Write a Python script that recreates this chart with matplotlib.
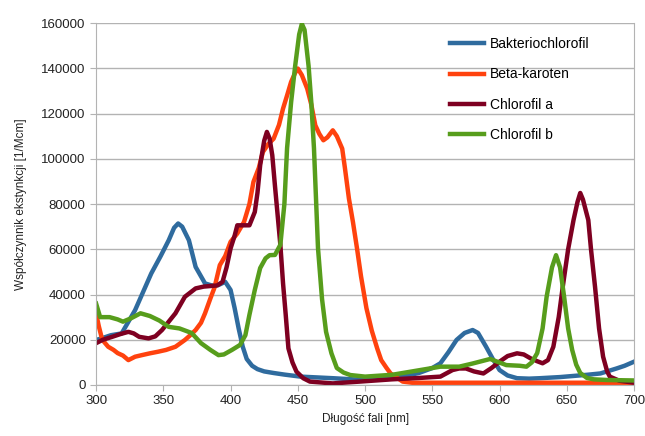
import matplotlib.pyplot as plt

plt.rcParams['font.family'] = ['Liberation Sans', 'DejaVu Sans']

# Bakteriochlorofil
bchl_x = [300, 305, 311, 319, 329, 341, 348, 354, 358, 361, 364, 369, 374, 381, 386, 391, 396,
          400, 403, 406, 409, 412, 416, 420, 425, 432, 440, 452, 476, 500, 520, 540, 550, 556,
          562, 568, 574, 580, 584, 590, 595, 600, 606, 613, 622, 630, 645, 655, 665, 675, 687,
          693, 700]
bchl_y = [19900, 20800, 22000, 22800, 33100, 49300, 57000, 64000, 69500, 71400, 70000, 64000,
          52200, 44900, 44000, 44200, 45600, 42000, 34000, 25000, 17000, 11500, 8500, 7000,
          6000, 5300, 4600, 3700, 3000, 2200, 2800, 5300, 7500, 9600, 14500, 19900, 23000,
          24300, 23000, 16900, 11500, 6600, 4200, 3000, 2800, 3000, 3500, 4000, 4500, 5100,
          7300, 8500, 10300]

# Beta-karoten
beta_x = [300, 302, 304, 306, 309, 313, 316, 320, 324, 329, 334, 340, 346, 352, 359, 366, 370,
          374, 378, 381, 385, 388, 392, 396, 400, 405, 410, 414, 417, 421, 424, 428, 432, 436,
          439, 442, 445, 448, 450, 453, 457, 460, 463, 466, 469, 472, 476, 479, 483, 485, 488,
          491, 494, 497, 501, 505, 509, 512, 516, 519, 523, 528, 535, 560, 600, 650, 700]
beta_y = [31700, 26000, 21300, 19000, 16900, 15500, 14100, 13000, 11000, 12500, 13200, 14000,
          14700, 15500, 16900, 19900, 22000, 24300, 27500, 31700, 38300, 43000, 53000, 57000,
          63300, 67000, 72100, 80000, 89800, 96000, 103000, 106500, 108900, 115000, 122200,
          128000, 134000, 138000, 139900, 137000, 131000, 124000, 114800, 111000, 108200,
          109500, 112600, 110000, 104500, 96000, 82400, 72000, 60400, 48000, 34000, 24000,
          16200, 11000, 7500, 5100, 3500, 1500, 1000, 1000, 1000, 1000, 1000]

# Chlorofil a
chla_x = [300, 305, 312, 318, 324, 328, 332, 339, 344, 349, 354, 359, 366, 374, 380, 384, 390,
          394, 397, 400, 403, 405, 410, 414, 418, 420, 422, 425, 427, 429, 431, 433, 435, 437,
          439, 441, 443, 446, 449, 454, 459, 476, 496, 520, 540, 556, 565, 570, 575, 581, 588,
          594, 600, 606, 613, 618, 623, 628, 632, 636, 640, 644, 647, 651, 655, 658, 660, 662,
          666, 668, 671, 674, 677, 680, 682, 689, 700]
chla_y = [18500, 20000, 21300, 22500, 23500, 22800, 21300, 20600, 21500, 24300, 28000, 31700,
          39000, 42700, 43500, 43700, 44000, 45600, 52000, 60400, 66000, 70600, 70600, 70600,
          76500, 85000, 97200, 108000, 111900, 109000, 101600, 88000, 75000, 62000, 45000,
          31000, 16200, 10000, 5900, 3000, 1500, 700, 1500, 2500, 3100, 3700, 6600, 7300, 7300,
          6000, 5100, 7500, 10300, 12800, 14000, 13500, 11800, 10500, 9600, 11000, 16900,
          30000, 43400, 60000, 72900, 81000, 84900, 82000, 72900, 60000, 43400, 25000, 12500,
          6000, 3700, 1900, 1000]

# Chlorofil b
chlb_x = [300, 303, 310, 316, 320, 326, 333, 340, 347, 354, 362, 371, 378, 385, 391, 395, 401,
          407, 411, 414, 418, 422, 426, 429, 433, 437, 440, 442, 445, 448, 451, 453, 455, 458,
          460, 462, 465, 468, 471, 475, 479, 484, 489, 500, 520, 545, 556, 570, 580, 593, 605,
          615, 620, 624, 628, 632, 635, 639, 642, 645, 648, 651, 654, 657, 660, 665, 670, 680,
          700]
chlb_y = [36000, 30000, 30000, 29000, 28000, 29500, 31700, 30500, 28500, 25700, 25000, 23000,
          18500, 15500, 13200, 13500, 15500, 17700, 22000, 31000, 42000, 51700, 56000, 57400,
          57500, 62000, 80000, 104700, 125000, 141000, 155000, 159700, 157000, 141000, 125000,
          104700, 60500, 38000, 23500, 14000, 7500, 5500, 4400, 3700, 4500, 7000, 8100, 8100,
          9500, 11500, 8800, 8500, 8100, 10000, 14100, 25000, 39000, 52000, 57400, 52000, 39000,
          25000, 15500, 9000, 5300, 3100, 2500, 2200, 2000]

x_ticks = [300, 350, 400, 450, 500, 550, 600, 650, 700]
y_ticks = [0, 20000, 40000, 60000, 80000, 100000, 120000, 140000, 160000]

fig = plt.figure(figsize=(6.45, 4.36), dpi=100)
ax = fig.add_axes([0.149, 0.117, 0.834, 0.830])

ax.plot(bchl_x, bchl_y, color='#2f6b9e', lw=3.2, label='Bakteriochlorofil')
ax.plot(beta_x, beta_y, color='#ff420e', lw=3.2, label='Beta-karoten')
ax.plot(chla_x, chla_y, color='#7e0021', lw=3.2, label='Chlorofil a')
ax.plot(chlb_x, chlb_y, color='#579d1c', lw=3.2, label='Chlorofil b')

ax.set_xlim(300, 700)
ax.set_ylim(0, 160000)
ax.set_xticks(x_ticks)
ax.set_yticks(y_ticks)
ax.grid(axis='y', color='#b3b3b3', lw=1)
ax.set_axisbelow(True)
for side in ['left', 'bottom', 'right']:
    ax.spines[side].set_color('#b3b3b3')
ax.spines['top'].set_visible(False)
ax.tick_params(colors='#b3b3b3', labelcolor='#222222', labelsize=9.5, length=4)

ax.set_xlabel('Długość fali [nm]', fontsize=8.5, color='#222222', labelpad=4)
ax.set_ylabel('Współczynnik ekstynkcji [1/Mcm]', fontsize=8.5, color='#222222', labelpad=10)

ax.legend(loc='upper left', bbox_to_anchor=(0.648, 0.976), frameon=False, fontsize=10,
          handlelength=2.4, handletextpad=0.45, labelspacing=1.16, borderaxespad=0)

fig.savefig('out.png', dpi=100)
